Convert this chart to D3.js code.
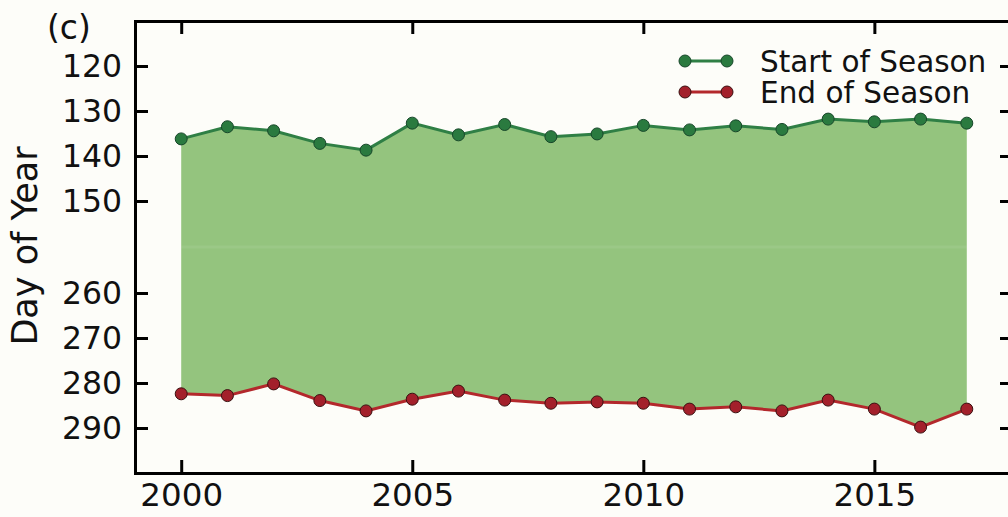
<!DOCTYPE html>
<html>
<head>
<meta charset="utf-8">
<script src="https://cdn.jsdelivr.net/npm/d3@7"></script>
<style>
  body { margin: 0; background: #fdfdf9; }
  svg { display: block; }
  text { font-family: "DejaVu Sans", sans-serif; fill: #111; }
</style>
</head>
<body>
<div id="chart"></div>
<script>
// values
const years = [2000,2001,2002,2003,2004,2005,2006,2007,2008,2009,2010,2011,2012,2013,2014,2015,2016,2017];
const startOfSeason = [136.2,133.5,134.4,137.2,138.7,132.7,135.3,133.0,135.7,135.1,133.2,134.2,133.3,134.1,131.8,132.4,131.8,132.7];
const endOfSeason   = [282.4,282.8,280.2,283.9,286.2,283.6,281.8,283.8,284.5,284.2,284.5,285.8,285.3,286.2,283.8,285.8,289.8,285.8];
const xTicks = [2000,2005,2010,2015];
const yTicks = [120,130,140,150,260,270,280,290];
const seriesNames = ["Start of Season","End of Season"];

function season_chart(div_id) {
    const width = 1008, height = 517;
    const left = 135, right = 1013, top = 21, bottom = 473;
    const breakTop = 246, breakBottom = 248;

    const svg = d3.select(`#${div_id}`).append("svg")
        .attr("width", width)
        .attr("height", height);

    const x = d3.scaleLinear().domain([1999, 2018]).range([left, right]);
    // broken axis: two stacked windows, reversed (day of year grows downward)
    const y = d3.scaleLinear()
        .domain([110, 160, 250, 300])
        .range([top, breakTop, breakBottom, bottom]);

    const data = years.map((yr, i) => ({year: yr, sos: startOfSeason[i], eos: endOfSeason[i]}));

    const area = d3.area()
        .x(d => x(d.year))
        .y0(d => y(d.sos))
        .y1(d => y(d.eos));

    svg.append("clipPath").attr("id", "fillclip")
        .append("path").attr("d", area(data));

    svg.append("path")
        .attr("d", area(data))
        .attr("fill", "#94c47e");

    // faint seam where the two panels meet
    svg.append("rect")
        .attr("clip-path", "url(#fillclip)")
        .attr("x", left).attr("width", right - left)
        .attr("y", breakTop - 0.5).attr("height", 3)
        .attr("fill", "#ffffff").attr("opacity", 0.07);

    const series = [
        {key: "sos", line: "#2f7f45", fill: "#2a7a3f", edge: "#17472a"},
        {key: "eos", line: "#b3282c", fill: "#a3202b", edge: "#3a1010"}
    ];

    series.forEach(s => {
        svg.append("path")
            .datum(data)
            .attr("fill", "none")
            .attr("stroke", s.line)
            .attr("stroke-width", 3)
            .attr("d", d3.line().x(d => x(d.year)).y(d => y(d[s.key])));

        svg.append("g").selectAll("circle")
            .data(data)
            .join("circle")
            .attr("cx", d => x(d.year))
            .attr("cy", d => y(d[s.key]))
            .attr("r", 6)
            .attr("fill", s.fill)
            .attr("stroke", s.edge)
            .attr("stroke-width", 1);
    });

    // axes, ticks pointing inward
    const tickLen = 13;
    const gLeft = svg.append("g").attr("transform", `translate(${left},0)`)
        .call(d3.axisLeft(y).tickValues(yTicks).tickSize(-tickLen).tickPadding(13));
    const gRight = svg.append("g").attr("transform", `translate(${right},0)`)
        .call(d3.axisRight(y).tickValues(yTicks).tickSize(-tickLen).tickFormat(""));
    const gBottom = svg.append("g").attr("transform", `translate(0,${bottom})`)
        .call(d3.axisBottom(x).tickValues(xTicks).tickSize(-tickLen).tickPadding(10).tickFormat(d3.format("d")));
    const gTop = svg.append("g").attr("transform", `translate(0,${top})`)
        .call(d3.axisTop(x).tickValues(xTicks).tickSize(-tickLen).tickFormat(""));

    [gLeft, gRight, gBottom, gTop].forEach(g => {
        g.select(".domain").attr("stroke", "#000").attr("stroke-width", 3);
        g.selectAll(".tick line").attr("stroke", "#000").attr("stroke-width", 3);
        g.selectAll(".tick text").style("font-size", "31.5px").attr("fill", "#111");
    });
    gBottom.selectAll(".tick text").style("font-size", "32.5px");

    // panel letter
    svg.append("text")
        .attr("x", 47).attr("y", 39)
        .style("font-size", "33px")
        .text("(c)");

    // y axis title
    svg.append("text")
        .attr("transform", `translate(37,246) rotate(-90)`)
        .attr("text-anchor", "middle")
        .style("font-size", "35px")
        .text("Day of Year");

    // legend
    const legend = svg.append("g");
    const rows = legend.selectAll("g")
        .data(series)
        .join("g")
        .attr("transform", (d, i) => `translate(0,${61 + i * 31})`);
    rows.append("line")
        .attr("x1", 685).attr("x2", 727)
        .attr("stroke", d => d.line).attr("stroke-width", 3);
    rows.selectAll("circle")
        .data(d => [685, 727].map(cx => ({cx, s: d})))
        .join("circle")
        .attr("cx", d => d.cx).attr("r", 6)
        .attr("fill", d => d.s.fill)
        .attr("stroke", d => d.s.edge).attr("stroke-width", 1);
    rows.append("text")
        .attr("x", 760).attr("y", 11)
        .style("font-size", "29.5px")
        .text((d, i) => seriesNames[i]);
}

season_chart("chart");
</script>
</body>
</html>
